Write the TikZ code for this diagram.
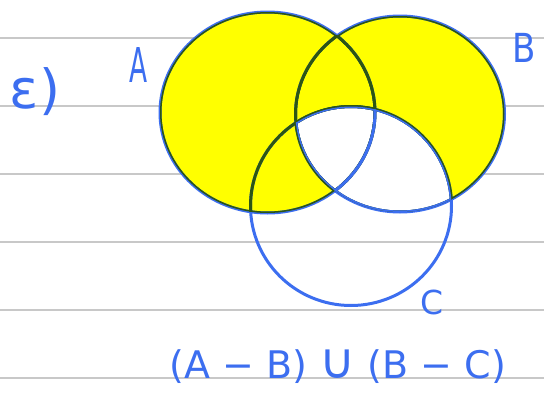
\documentclass[tikz,border=0pt]{standalone}
\usepackage{graphicx}
\usepackage{fontspec}
\setmainfont{DejaVu Sans}
\begin{document}
\begin{tikzpicture}[x=1pt,y=-1pt]
\definecolor{pen}{RGB}{60,110,240}
\definecolor{hl}{RGB}{255,255,0}
\definecolor{dk}{RGB}{45,85,20}
\definecolor{rulec}{RGB}{200,200,200}
\tikzset{
  ruleline/.style={rulec, line width=1.1pt},
  ink/.style={pen, line width=3pt},
  inkdk/.style={dk, line width=3pt},
  hand/.style={pen, anchor=base, inner sep=0pt}
}
\def\circA{(267.5,112.5) ellipse [x radius=107.5, y radius=100.5]}
\def\circB{(400,114) ellipse [x radius=104.5, y radius=98]}
\def\circC{(351,206) ellipse [x radius=100.5, y radius=99.5]}
\useasboundingbox (0,0) rectangle (544,394);
\fill[white] (0,0) rectangle (544,394);
\foreach \y in {38,106,174,242,310,378} \draw[ruleline] (0,\y) -- (544,\y);
% highlighted region (A-B) u (B-C)
\fill[hl] \circA;
\fill[hl] \circB;
\begin{scope}
  \clip \circB;
  \fill[white] \circC;
\end{scope}
% circles
\draw[ink] \circA;
\draw[ink] \circB;
\draw[ink] \circC;
\begin{scope}
  \clip \circA;
  \draw[inkdk] \circA; \draw[inkdk] \circB; \draw[inkdk] \circC;
\end{scope}
\begin{scope}
  \clip \circB;
  \draw[inkdk] \circA; \draw[inkdk] \circB; \draw[inkdk] \circC;
\end{scope}
\begin{scope}
  \clip \circB;
  \clip \circC;
  \draw[ink] \circA; \draw[ink] \circB; \draw[ink] \circC;
\end{scope}
% labels
\node[hand, font=\fontsize{54}{54}\selectfont] (part) at (35,108) {ε)};
\node[hand, font=\fontsize{48}{48}\selectfont] (lA) at (139,82) {\scalebox{0.55}[1]{A}};
\node[hand, font=\fontsize{40}{40}\selectfont] (lB) at (524,62) {\scalebox{0.85}[1]{B}};
\node[hand, font=\fontsize{33}{33}\selectfont] (lC) at (432,314) {C};
\node[hand, font=\fontsize{38}{38}\selectfont] (expr) at (338,378) {(A − B) \scalebox{1.3}{∪} (B − C)};
\end{tikzpicture}
\end{document}
